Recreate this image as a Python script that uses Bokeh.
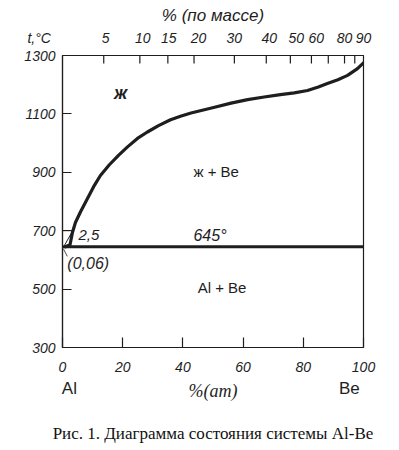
from bokeh.plotting import figure
from bokeh.models import Range1d, LinearAxis, FixedTicker, Label
from bokeh.embed import file_html
from bokeh.resources import INLINE

# ---- data ----
temp_ticks = [300, 500, 700, 900, 1100, 1300]
at_ticks = [0, 20, 40, 60, 80, 100]
# top (mass %) scale, positions expressed in at.% on the bottom scale
wt_tick_at = [13.7, 25.7, 35.0, 43.7, 57.1, 67.7, 75.7, 82.7, 88.3, 93.7, 97.1]
wt_label_at = [14.3, 26.7, 35.3, 45.2, 57.1, 68.7, 77.7, 84.3, 93.7, 100]
wt_labels = ["5", "10", "15", "20", "30", "40", "50", "60", "80", "90"]

component_at = [2.3, 95.3]
component_labels = ["Al", "Be"]

temp_title = "t,°C"
caption = "Рис. 1. Диаграмма состояния системы Al-Be"

liquidus_at = [1.0, 2.5, 3.3, 4.3, 6.0, 8.3, 10.3, 12.6, 15.5, 18.6, 21.6, 24.9, 28.2, 31.9,
               35.9, 39.2, 42.7, 50.2, 56.0, 61.5, 67.0, 72.4, 77.0, 81.4, 85.0, 88.0, 91.5,
               94.7, 98.0, 100.0]
liquidus_t = [645, 652, 694, 728, 765, 810, 850, 889, 925, 958, 987, 1016, 1038, 1060,
              1080, 1092, 1103, 1122, 1137, 1149, 1158, 1166, 1172, 1180, 1192, 1204, 1217,
              1232, 1255, 1275]

eutectic_at = [0, 100]
eutectic_t = [645, 645]

inset_at = [0, 3.4, 0.4]
inset_t = [700, 700, 645]
leader_at = [0.3, 1.6]
leader_t = [638, 612]

phase_text = ["ж", "ж + Be", "645°", "Al + Be", "2,5", "(0,06)"]
phase_at = [19.3, 43.5, 43.5, 44.9, 5.3, 1.6]
phase_t = [1170, 903, 684, 505, 684, 588]
phase_style = ["bold italic", "normal", "italic", "normal", "italic", "italic"]
phase_size = ["18px", "15px", "16px", "15px", "15px", "16px"]

FONT = "Liberation Sans"
INK = "#1e1e1e"

p = figure(width=399, height=450, output_backend="svg", toolbar_location=None,
           x_range=Range1d(0, 100), y_range=Range1d(300, 1300),
           x_axis_type=None, y_axis_type=None,
           min_border_left=62, min_border_right=36, min_border_top=55, min_border_bottom=103)
p.xgrid.visible = False
p.ygrid.visible = False
p.outline_line_color = INK
p.outline_line_width = 1.2
p.background_fill_color = "white"
p.border_fill_color = "white"

def style_axis(ax):
    ax.axis_line_color = INK
    ax.axis_line_width = 1.2
    ax.major_tick_line_color = INK
    ax.major_tick_line_width = 1.2
    ax.minor_tick_line_color = None
    ax.major_tick_out = 0
    ax.major_label_text_font = FONT
    ax.major_label_text_font_style = "italic"
    ax.major_label_text_font_size = "14px"
    ax.major_label_text_color = INK

left = LinearAxis(ticker=FixedTicker(ticks=temp_ticks))
style_axis(left)
left.major_tick_in = 9
left.major_label_standoff = 7
p.add_layout(left, "left")

bottom = LinearAxis(ticker=FixedTicker(ticks=at_ticks))
style_axis(bottom)
bottom.major_tick_in = 10
bottom.major_label_standoff = 14
bottom.axis_label = "%(ат)"
bottom.axis_label_text_font = "Liberation Serif"
bottom.axis_label_text_font_style = "italic"
bottom.axis_label_text_font_size = "18px"
bottom.axis_label_text_color = INK
bottom.axis_label_standoff = 6
p.add_layout(bottom, "below")

# component names on the same row as the at.% title, caption underneath
names = LinearAxis(ticker=FixedTicker(ticks=component_at),
                   major_label_overrides={k: v for k, v in zip(component_at, component_labels)})
style_axis(names)
names.axis_line_color = None
names.major_tick_in = 0
names.major_tick_line_color = None
names.major_label_text_font_style = "normal"
names.major_label_text_font_size = "17px"
names.major_label_standoff = -25
names.axis_label = caption
names.axis_label_text_font = "Liberation Serif"
names.axis_label_text_font_style = "normal"
names.axis_label_text_font_size = "17px"
names.axis_label_text_color = "#111"
names.axis_label_standoff = 23
p.add_layout(names, "below")

# mass-% labels; the temperature title sits at the left end of this row
top_ticks = [p.x_range.start] + wt_label_at
top_labels = [temp_title + "\u00a0" * 12] + wt_labels
top = LinearAxis(ticker=FixedTicker(ticks=top_ticks),
                 major_label_overrides={k: v for k, v in zip(top_ticks, top_labels)})
style_axis(top)
top.major_tick_in = 0
top.major_tick_line_color = None
top.major_label_standoff = 10
top.axis_label = "% (по массе)"
top.axis_label_text_font = FONT
top.axis_label_text_font_style = "italic"
top.axis_label_text_font_size = "17px"
top.axis_label_text_color = INK
top.axis_label_standoff = 2
p.add_layout(top, "above")

# inward tick marks of the mass-% scale
px_per_deg = 292 / (p.y_range.end - p.y_range.start)
tick_len = 8 / px_per_deg
p.segment(x0=wt_tick_at, y0=[p.y_range.end] * len(wt_tick_at),
          x1=wt_tick_at, y1=[p.y_range.end - tick_len] * len(wt_tick_at),
          line_color=INK, line_width=1.2)

# curves
p.line(liquidus_at, liquidus_t, line_color=INK, line_width=3.2, line_cap="round", line_join="round")
p.line(eutectic_at, eutectic_t, line_color=INK, line_width=3.2)
p.line(inset_at, inset_t, line_color=INK, line_width=1.0)
p.line(leader_at, leader_t, line_color=INK, line_width=0.8)

for txt, xa, yt, st, sz in zip(phase_text, phase_at, phase_t, phase_style, phase_size):
    p.add_layout(Label(x=xa, y=yt, text=txt, text_font=FONT, text_font_style=st,
                       text_font_size=sz, text_color=INK,
                       text_align="center" if txt == "ж" else "left", text_baseline="middle"))

open("out.html", "w").write(file_html(p, INLINE))
